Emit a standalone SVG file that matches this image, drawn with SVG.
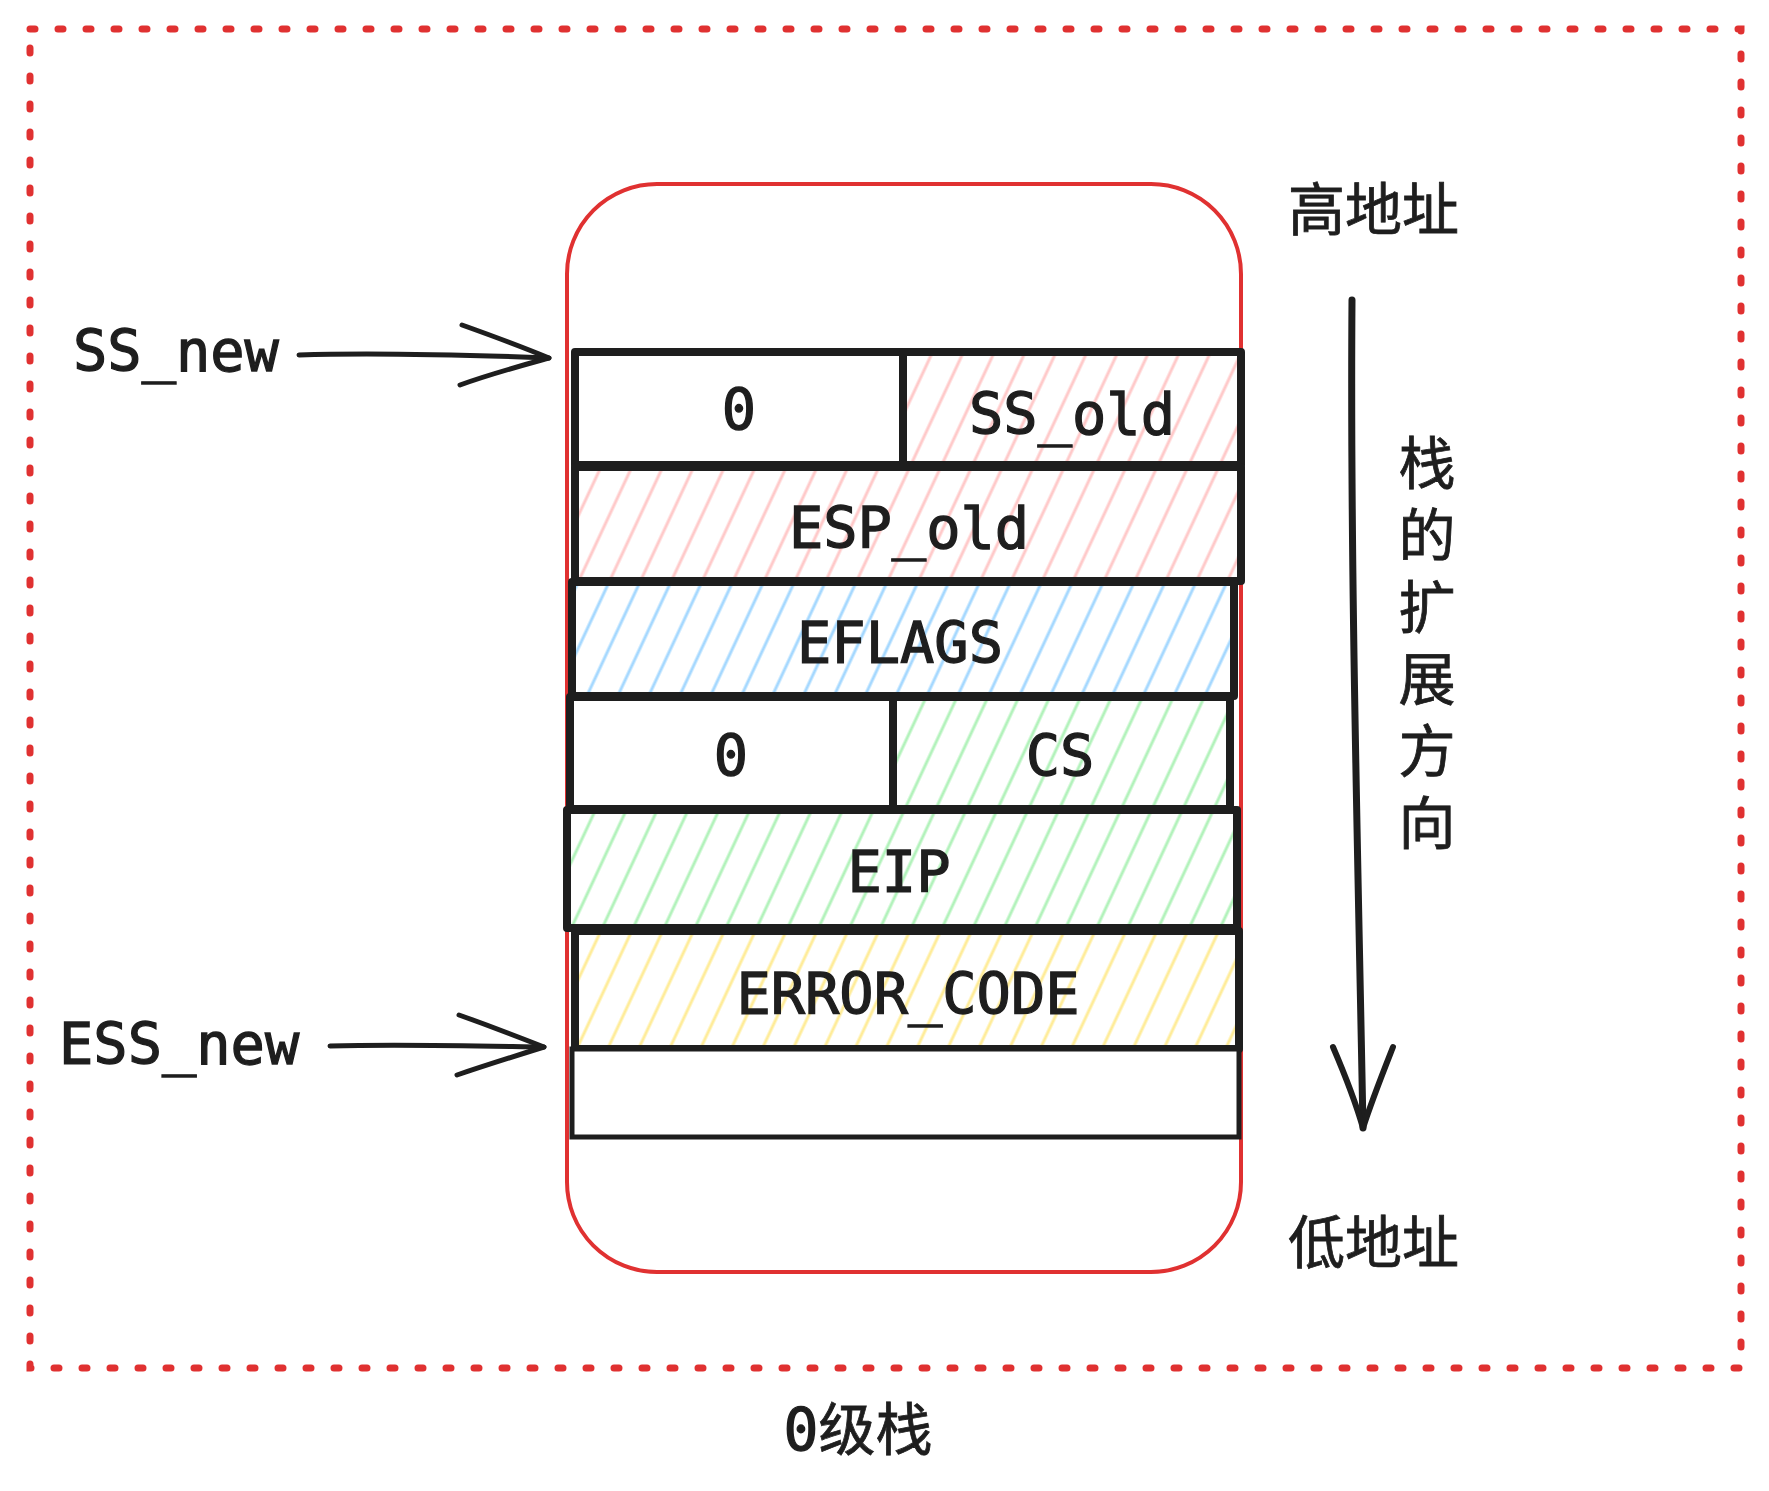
<svg xmlns="http://www.w3.org/2000/svg" width="1769" height="1491" viewBox="0 0 1769 1491">
<style>
.mono{font-family:"DejaVu Sans Mono","Liberation Mono",monospace;font-size:57px;fill:#1e1e1e;stroke:#1e1e1e;stroke-width:1.3px}
.cjk{font-family:"Noto Sans CJK SC","Noto Sans",sans-serif;font-size:57px;fill:#1e1e1e;stroke:#1e1e1e;stroke-width:0.8px}
.cell{stroke:#1e1e1e;stroke-width:8;stroke-linejoin:round}
.ink{fill:none;stroke:#1e1e1e;stroke-linecap:round;stroke-linejoin:round}
</style>
<defs>
<pattern id="hPink" patternUnits="userSpaceOnUse" width="28" height="28" patternTransform="rotate(25)"><line x1="14" y1="-2" x2="14" y2="30" stroke="#ffc9c9" stroke-width="3"/></pattern>
<pattern id="hBlue" patternUnits="userSpaceOnUse" width="28" height="28" patternTransform="rotate(25)"><line x1="14" y1="-2" x2="14" y2="30" stroke="#a5d8ff" stroke-width="3"/></pattern>
<pattern id="hGreen" patternUnits="userSpaceOnUse" width="28" height="28" patternTransform="rotate(25)"><line x1="14" y1="-2" x2="14" y2="30" stroke="#b2f2bb" stroke-width="3"/></pattern>
<pattern id="hYellow" patternUnits="userSpaceOnUse" width="28" height="28" patternTransform="rotate(25)"><line x1="14" y1="-2" x2="14" y2="30" stroke="#ffec99" stroke-width="3"/></pattern>
</defs>
<rect width="1769" height="1491" fill="#ffffff"/>

<g id="frame-level0">
<rect x="30" y="29" width="1711" height="1339" fill="none" stroke="#e03131" stroke-width="7" stroke-linecap="round" stroke-dasharray="5 23"/>
</g>

<g id="stack-container">
<rect x="567" y="184" width="674" height="1088" rx="90" ry="90" fill="none" stroke="#e03131" stroke-width="4"/>
</g>

<g id="row-ss">
<rect class="cell" x="575" y="352" width="328" height="113" fill="#ffffff"/>
<rect class="cell" x="903" y="352" width="338" height="113" fill="url(#hPink)"/>
<text class="mono" x="739" y="430" text-anchor="middle">0</text>
<text class="mono" x="1072" y="434" text-anchor="middle">SS_old</text>
</g>

<g id="row-esp">
<rect class="cell" x="575" y="467" width="666" height="114" fill="url(#hPink)"/>
<text class="mono" x="909" y="548" text-anchor="middle">ESP_old</text>
</g>

<g id="row-eflags">
<rect class="cell" x="572" y="582" width="662" height="114" fill="url(#hBlue)"/>
<text class="mono" x="900" y="663" text-anchor="middle">EFLAGS</text>
</g>

<g id="row-cs">
<rect class="cell" x="570" y="697" width="323" height="112" fill="#ffffff"/>
<rect class="cell" x="893" y="697" width="337" height="112" fill="url(#hGreen)"/>
<text class="mono" x="731" y="776" text-anchor="middle">0</text>
<text class="mono" x="1060" y="776" text-anchor="middle">CS</text>
</g>

<g id="row-eip">
<rect class="cell" x="567" y="810" width="670" height="118" fill="url(#hGreen)"/>
<text class="mono" x="899" y="892" text-anchor="middle">EIP</text>
</g>

<g id="row-error-code">
<rect class="cell" x="575" y="931" width="664" height="118" fill="url(#hYellow)"/>
<text class="mono" x="908" y="1014" text-anchor="middle">ERROR_CODE</text>
</g>

<g id="row-empty">
<rect x="572" y="1049" width="667" height="88" fill="#ffffff" stroke="#1e1e1e" stroke-width="5"/>
</g>

<g id="label-ss-new">
<text class="mono" x="73" y="371">SS_new</text>
</g>
<g id="label-ess-new">
<text class="mono" x="59" y="1064">ESS_new</text>
</g>
<g id="label-high">
<text class="cjk" x="1288" y="230">高地址</text>
</g>
<g id="label-low">
<text class="cjk" x="1288" y="1263">低地址</text>
</g>
<g id="label-direction">
<text class="cjk" x="1427" y="434" style="writing-mode:vertical-rl;letter-spacing:15px">栈的扩展方向</text>
</g>
<g id="label-level0">
<text class="cjk" x="858" y="1450" text-anchor="middle"><tspan class="mono" style="font-size:58px">0</tspan>级栈</text>
</g>

<g id="connectors">
<path class="ink" stroke-width="5" d="M299,355 C380,352 470,355 549,358"/>
<path class="ink" stroke-width="5" d="M462,325 C490,335 520,346 549,358 C520,366 490,374 460,385"/>
<path class="ink" stroke-width="5" d="M330,1046 C400,1044 480,1046 544,1047"/>
<path class="ink" stroke-width="5" d="M459,1015 C487,1025 516,1036 544,1047 C515,1056 486,1065 457,1075"/>
<path class="ink" stroke-width="7" d="M1352,300 C1350,560 1358,860 1363,1128"/>
<path class="ink" stroke-width="6" d="M1333,1047 C1345,1075 1355,1100 1363,1128 C1372,1100 1382,1075 1393,1047"/>
</g>
</svg>
